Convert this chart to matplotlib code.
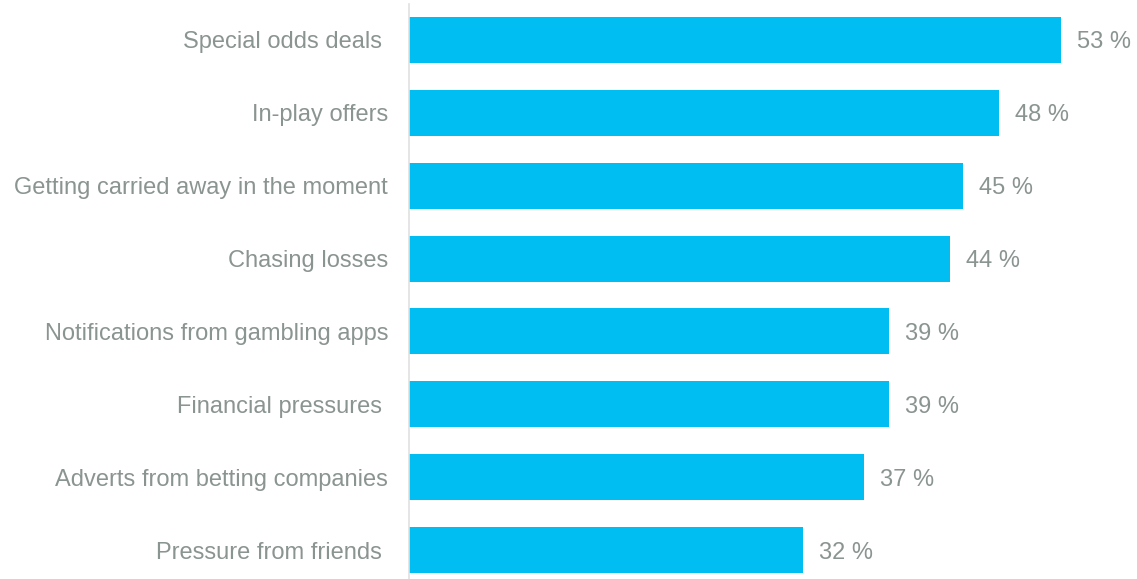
import matplotlib.pyplot as plt

plt.rcParams['font.family'] = ['Liberation Sans', 'DejaVu Sans']

categories = ["Special odds deals ", "In-play offers", "Getting carried away in the moment",
              "Chasing losses", "Notifications from gambling apps", "Financial pressures ",
              "Adverts from betting companies", "Pressure from friends "]
values = [53, 48, 45, 44, 39, 39, 37, 32]
value_labels = ["53 %", "48 %", "45 %", "44 %", "39 %", "39 %", "37 %", "32 %"]

bar_col = "#00BDF2"
txt_col = "#8A9490"
fs = 17

fig = plt.figure(figsize=(11.37, 5.79), dpi=100)
# axes placed in pixels: left edge 409, bar 53 ends at 1061
x0, x1 = 409 / 1137, 1110 / 1137
ax = fig.add_axes([x0, 0, x1 - x0, 575 / 579])

pos = list(range(len(categories)))
ax.barh(pos, values, height=0.63, color=bar_col)

for p, v, lab in zip(pos, values, value_labels):
    ax.text(v + 1.3, p, lab, va="center_baseline", ha="left", fontsize=fs, color=txt_col)

ax.set_xlim(0, 53 * 701 / 652)
ax.set_ylim(7.398, -0.494)
ax.set_yticks(pos)
ax.set_yticklabels(categories, fontsize=fs, color=txt_col, va="center_baseline")
ax.tick_params(axis="y", length=0, pad=15)
ax.set_xticks([])

for s in ["top", "right", "bottom"]:
    ax.spines[s].set_visible(False)
ax.spines["left"].set_color("#E0E0E0")
ax.spines["left"].set_linewidth(1.2)

fig.savefig("out.png", dpi=100)
